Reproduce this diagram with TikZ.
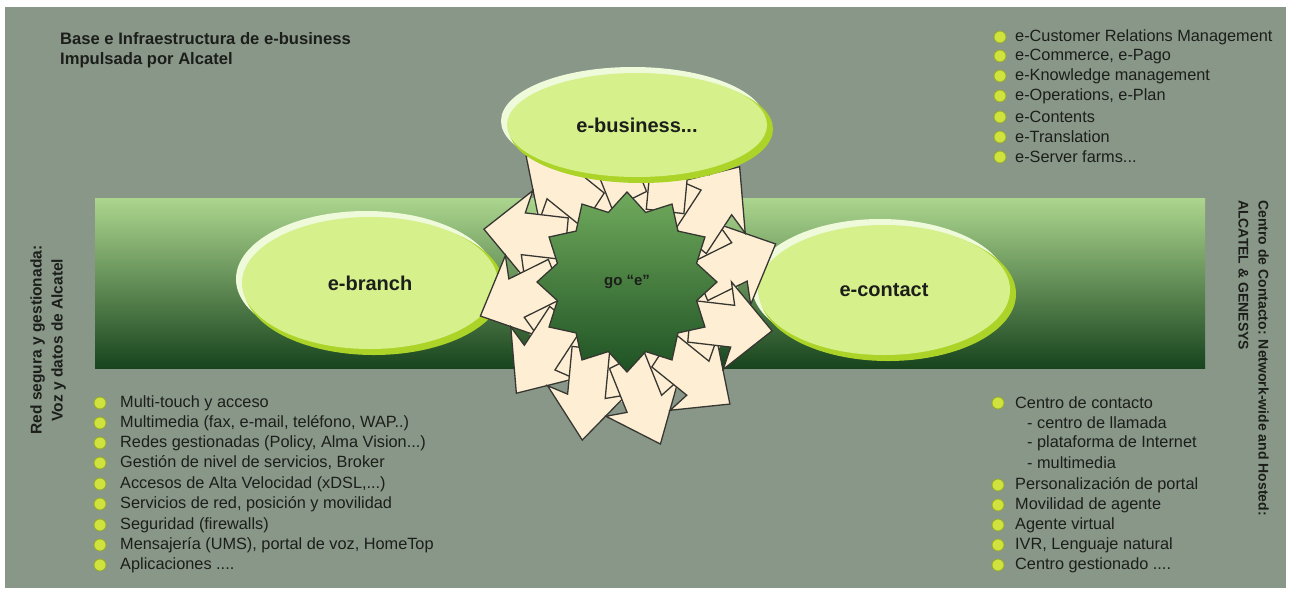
\documentclass[tikz,border=0pt]{standalone}
\usepackage{fontspec}
\setmainfont{Liberation Sans}
\usetikzlibrary{shapes.geometric}

\definecolor{panel}{RGB}{137,151,137}
\definecolor{bandtop}{RGB}{172,214,142}
\definecolor{bandmid}{RGB}{86,146,72}
\definecolor{banddark}{RGB}{24,68,30}
\definecolor{ellfill}{RGB}{214,240,140}
\definecolor{ellrim}{RGB}{172,212,40}
\definecolor{ellshine}{RGB}{238,250,218}
\definecolor{cream}{RGB}{254,238,212}
\definecolor{arrowline}{RGB}{55,55,50}
\definecolor{startop}{RGB}{112,170,92}
\definecolor{starbot}{RGB}{30,82,36}
\definecolor{bulletfill}{RGB}{208,226,62}
\definecolor{bulletedge}{RGB}{150,172,40}
\definecolor{ink}{RGB}{28,30,26}

\tikzset{
  listtext/.style={anchor=west, inner sep=0pt, text=ink, font=\fontsize{16.3}{18}\selectfont},
  headtext/.style={inner sep=0pt, text=ink, font=\bfseries\fontsize{16}{20}\selectfont},
  bulletdot/.style={circle, fill=bulletfill, draw=bulletedge, line width=0.8pt,
    minimum size=12pt, inner sep=0pt},
  bubble/.style={ellipse, fill=ellfill, inner sep=0pt, text=ink,
    font=\bfseries\fontsize{20}{24}\selectfont},
  ringarrow/.style={fill=cream, draw=arrowline, line width=1.3pt, line join=miter},
  hub/.style={star, star points=12, star point ratio=1.25, minimum size=180pt,
    inner sep=0pt, top color=startop, bottom color=starbot, draw=arrowline,
    line width=1.3pt, text=ink, font=\bfseries\fontsize{15}{18}\selectfont},
}

\begin{document}
\begin{tikzpicture}[x=1pt,y=-1pt]
\useasboundingbox (0,0) rectangle (1290,592);
\fill[white] (0,0) rectangle (1290,592);
\fill[panel] (5,7) rectangle (1286,588);

% horizontal green band
\shade[top color=bandtop, middle color=bandmid, bottom color=banddark]
  (95,198) rectangle (1205,368);

% side bubbles
\fill[ellshine] (366,279) ellipse [x radius=130, y radius=68];
\fill[ellrim] (374,287) ellipse [x radius=130, y radius=68];
\node[bubble, minimum width=256pt, minimum height=132pt] (branch) at (370,283) {e-branch};

\fill[ellshine] (880,286) ellipse [x radius=128, y radius=67];
\fill[ellrim] (888,294) ellipse [x radius=128, y radius=67];
\node[bubble, minimum width=252pt, minimum height=130pt] (contact) at (884,290) {e-contact};

% wheel of twelve arrows, each leaning out of the hub like a pinwheel
\begin{scope}[shift={(628,280)}, xscale=0.9]
  \fill[cream] (0,0) circle (122);
  \foreach \a in {-1,29,...,329} {
    \begin{scope}[rotate=\a, shift={(80,0)}, rotate=25]
      \filldraw[ringarrow] (0,-21) -- (48,-21) -- (42,-44) -- (92,0) -- (42,44)
        -- (48,21) -- (0,21) -- cycle;
    \end{scope}
  }
\end{scope}
% green hub with the slogan
\node[hub] (goe) at (627,282) {go ``e''};

% top bubble
\fill[ellshine] (633,121) ellipse [x radius=132, y radius=54];
\fill[ellrim] (641,129) ellipse [x radius=132, y radius=54];
\node[bubble, minimum width=260pt, minimum height=104pt] (business) at (637,125) {e-business...};

% title
\node[headtext, anchor=north west, align=left, font=\bfseries\fontsize{16.6}{20}\selectfont]
  (title) at (60,32) {Base e Infraestructura de e-business\\Impulsada por Alcatel};

% side captions
\node[headtext, rotate=90, align=center, font=\bfseries\fontsize{15.5}{21}\selectfont]
  (leftcap) at (48,340) {Red segura y gestionada:\\Voz y datos de Alcatel};
\node[headtext, rotate=-90, anchor=north west, align=left, font=\bfseries\fontsize{14}{20}\selectfont]
  (rightcap) at (1269,200) {Centro de Contacto: Network-wide and Hosted:\\ALCATEL \& GENESYS};

% top-right list
\foreach \n/\y/\t in {1/37/{e-Customer Relations Management}, 2/56/{e-Commerce, e-Pago},
    3/76/{e-Knowledge management}, 4/96/{e-Operations, e-Plan}, 5/117/{e-Contents},
    6/137/{e-Translation}, 7/157/{e-Server farms...}} {
  \node[bulletdot] (trb\n) at (1000,\y) {};
  \node[listtext] (trt\n) at (1015,\y) {\t};
}

% bottom-left list
\foreach \n/\y/\t in {1/403/{Multi-touch y acceso},
    2/423/{Multimedia (fax, e-mail, teléfono, WAP..)},
    3/443/{Redes gestionadas (Policy, Alma Vision...)},
    4/463/{Gestión de nivel de servicios, Broker},
    5/484/{Accesos de Alta Velocidad (xDSL,...)},
    6/504/{Servicios de red, posición y movilidad},
    7/525/{Seguridad (firewalls)},
    8/545/{Mensajería (UMS), portal de voz, HomeTop},
    9/565/{Aplicaciones ....}} {
  \node[bulletdot] (blb\n) at (100,\y) {};
  \node[listtext] (blt\n) at (120,\y) {\t};
}

% bottom-right list
\foreach \n/\y/\t in {1/403/{Centro de contacto}, 2/485/{Personalización de portal},
    3/505/{Movilidad de agente}, 4/525/{Agente virtual},
    5/545/{IVR, Lenguaje natural}, 6/565/{Centro gestionado ....}} {
  \node[bulletdot] (brb\n) at (998,\y) {};
  \node[listtext] (brt\n) at (1015,\y) {\t};
}
\foreach \n/\y/\t in {1/423/{- centro de llamada}, 2/443/{- plataforma de Internet},
    3/463/{- multimedia}} {
  \node[listtext] (brs\n) at (1027,\y) {\t};
}
\end{tikzpicture}
\end{document}
